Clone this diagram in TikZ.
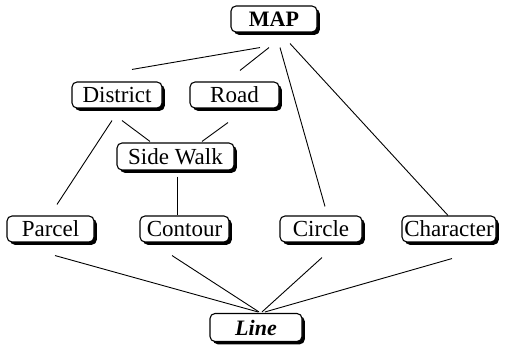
\documentclass[tikz,border=0pt]{standalone}
\usepackage{fontspec}
\setmainfont{Liberation Serif}
\usetikzlibrary{shadows}
\begin{document}
\begin{tikzpicture}[x=1pt,y=-1pt,
  box/.style={draw=black, line width=1.1pt, rounded corners=5pt, fill=white,
    inner sep=0pt, minimum height=26pt,
    font=\fontsize{23}{26}\selectfont,
    drop shadow={shadow xshift=2.8pt, shadow yshift=-2.8pt, opacity=1, fill=black}},
  link/.style={draw=black, line width=0.9pt}]
\useasboundingbox (0,0) rectangle (509,347);
\node[box, minimum width=86pt, font=\fontsize{22}{26}\selectfont\bfseries] (map) at (274,19) {MAP};
\node[box, minimum width=90pt] (district) at (117,95) {District};
\node[box, minimum width=89pt] (road) at (234.5,95) {Road};
\node[box, minimum width=117pt, minimum height=27pt] (side) at (175.5,156.5) {Side Walk};
\node[box, minimum width=87pt] (parcel) at (50.5,229) {Parcel};
\node[box, minimum width=89pt] (contour) at (184.5,229) {Contour};
\node[box, minimum width=82pt] (circle) at (321,229) {Circle};
\node[box, minimum width=94pt] (character) at (449,229) {Character};
\node[box, minimum width=92pt, minimum height=28pt, font=\fontsize{22}{26}\selectfont\bfseries\itshape] (line) at (256,327.5) {Line};
\draw[link] ([shift={(-14,15)}]map.south) -- ([shift={(15,-12)}]district.north);
\draw[link] ([shift={(-5,15)}]map.south) -- ([shift={(5.5,-11)}]road.north);
\draw[link] ([shift={(6,15)}]map.south) -- ([shift={(4,-9)}]circle.north);
\draw[link] ([shift={(16,11)}]map.south) -- ([shift={(-1,0)}]character.north);
\draw[link] ([shift={(-5,12)}]district.south) -- ([shift={(6.5,-11)}]parcel.north);
\draw[link] ([shift={(5,12)}]district.south) -- ([shift={(-25.5,-1)}]side.north);
\draw[link] ([shift={(-6.5,14)}]road.south) -- ([shift={(26.5,-1)}]side.north);
\draw[link] ([shift={(1.5,6)}]side.south) -- ([shift={(-7.5,0)}]contour.north);
\draw[link] ([shift={(4.5,13)}]parcel.south) -- ([shift={(2,-1)}]line.north);
\draw[link] ([shift={(-12.5,13)}]contour.south) -- ([shift={(3,-1)}]line.north);
\draw[link] ([shift={(1,15)}]circle.south) -- ([shift={(6,-1)}]line.north);
\draw[link] ([shift={(3,16)}]character.south) -- ([shift={(9,-1)}]line.north);
\end{tikzpicture}
\end{document}
